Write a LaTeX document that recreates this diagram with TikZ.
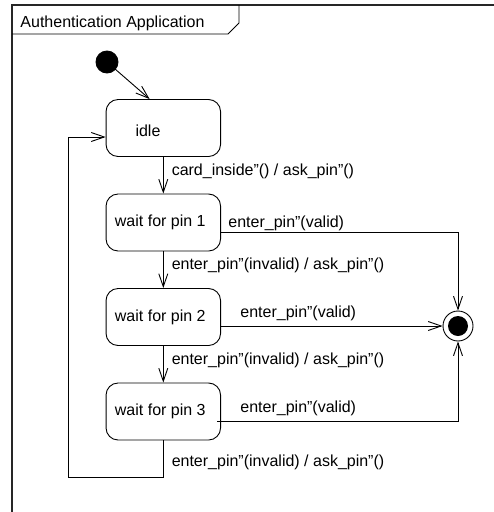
\documentclass[tikz,border=0pt]{standalone}
\usepackage{fontspec}
\setmainfont{Liberation Sans}
\usetikzlibrary{arrows.meta,calc}

\begin{document}
\begin{tikzpicture}[x=1pt,y=-1pt,
  font=\fontsize{16}{19}\selectfont,
  line width=0.9pt,
  arr/.style={-{Straight Barb[length=13pt,width=9pt]}},
  state/.style={draw, rounded corners=12pt, minimum width=114.5pt,
    minimum height=57pt, inner sep=0pt},
  lbl/.style={inner sep=0pt, anchor=base west},
  trlbl/.style={inner sep=0pt, anchor=west, xshift=8pt},
  ]
\useasboundingbox (0,0) rectangle (494,512);

% enclosing frame and its name tab
\draw[line width=1.2pt, black!85] (494,5) -- (12,5) -- (12,512);
\draw (12,34) -- (228,34) -- (239,23) -- (239,5);
\node[lbl] (title) at (20,27) {Authentication Application};

% states
\node[circle, fill=black, draw, minimum size=22pt, inner sep=0pt] (init) at (107,62) {};
\node[state] (idle) at (163.3,128) {};
\node (idletext) at (148,131) {idle};
\node[state] (p1) at (163.3,222.5) {wait for pin 1\hspace*{6pt}};
\node[state] (p2) at (163.3,317) {wait for pin 2\hspace*{6pt}};
\node[state] (p3) at (163.3,411.5) {wait for pin 3\hspace*{6pt}};
\node[circle, draw, minimum size=30pt, inner sep=0pt,
  path picture={\fill (path picture bounding box.center) circle (10pt);}]
  (final) at (458,326) {};

% connector end points
\coordinate (idletop) at ($(idle.north west)+(44,0)$);
\coordinate (idlein) at ($(idle.west)+(0,9)$);
\coordinate (p1out) at ($(p1.east)+(0,9.5)$);
\coordinate (p2out) at (p2.east |- final);
\coordinate (p3out) at ($(p3.east)+(-4,9.5)$);
\coordinate (loopbl) at (68,477);

% transitions
\draw[arr] (init.center) -- (idletop);
\draw[arr] (idle) -- node[trlbl, yshift=4pt] {card\_inside”() / ask\_pin”()} (p1);
\draw[arr] (p1) -- node[trlbl, yshift=4pt] {enter\_pin”(invalid) / ask\_pin”()} (p2);
\draw[arr] (p2) -- node[trlbl, yshift=4pt] {enter\_pin”(invalid) / ask\_pin”()} (p3);
\draw[arr] (p3.south) |- node[pos=0.25, trlbl, yshift=-4pt] {enter\_pin”(invalid) / ask\_pin”()}
  (loopbl) |- (idlein);

\draw[arr] (p1out) node[lbl, xshift=7pt, yshift=5pt] {enter\_pin”(valid)} -| (final);
\draw[arr] (p2out) node[lbl, xshift=19pt, yshift=8.5pt] {enter\_pin”(valid)} -- (final);
\draw[arr] (p3out) node[lbl, xshift=23pt, yshift=8.5pt] {enter\_pin”(valid)} -| (final);
\end{tikzpicture}
\end{document}
